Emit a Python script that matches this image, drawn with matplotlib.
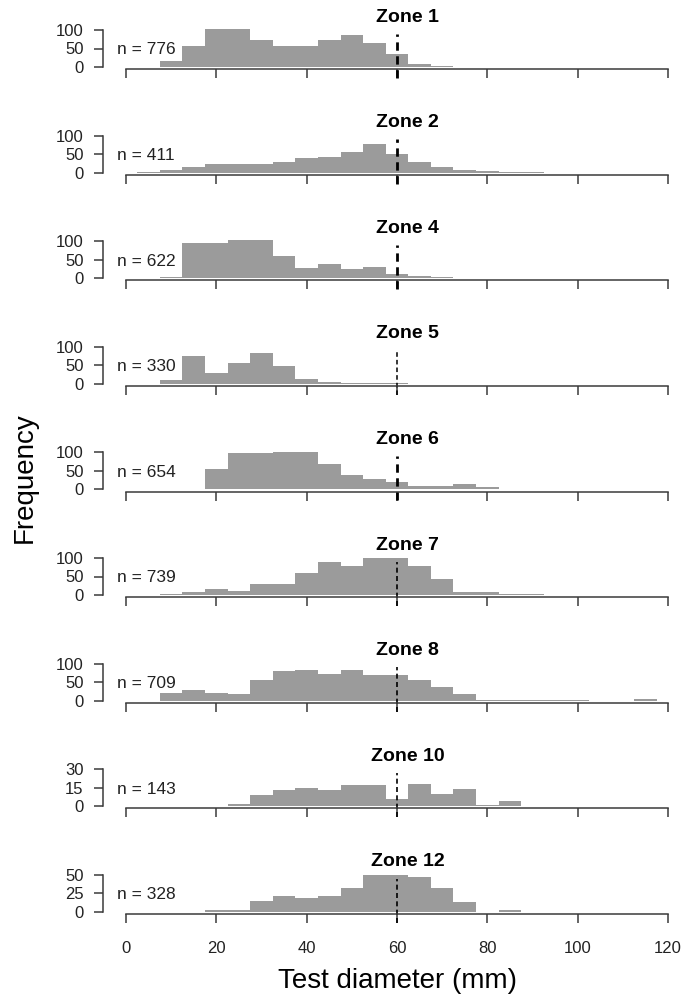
import matplotlib
matplotlib.use("Agg")
import matplotlib.pyplot as plt

plt.rcParams['font.family'] = ['Liberation Sans', 'DejaVu Sans']

#---------------DATOS---------------#

# bin centres (5 mm bins)
centers = [5, 10, 15, 20, 25, 30, 35, 40, 45, 50, 55, 60,
           65, 70, 75, 80, 85, 90, 95, 100, 105, 110, 115, 120]

zones = ['Zone 1', 'Zone 2', 'Zone 4', 'Zone 5', 'Zone 6',
         'Zone 7', 'Zone 8', 'Zone 10', 'Zone 12']
n_labels = [776, 411, 622, 330, 654, 739, 709, 143, 328]
y_ticks = [[0, 50, 100]] * 7 + [[0, 15, 30], [0, 25, 50]]
x_ticks = [0, 20, 40, 60, 80, 100, 120]

zone1 = [0, 16, 56, 103, 103, 73, 56, 56, 73, 87, 64, 35,
         7, 3, 1, 0, 0, 0, 0, 0, 0, 0, 0, 0]
zone2 = [1, 7, 15, 22, 22, 22, 30, 39, 43, 56, 78, 51,
         29, 15, 6, 3, 1, 1, 0, 0, 0, 0, 0, 0]
zone4 = [0, 2, 94, 94, 103, 103, 59, 28, 39, 25, 30, 11,
         7, 3, 1, 0, 0, 0, 0, 0, 0, 0, 0, 0]
zone5 = [0, 9, 74, 30, 57, 83, 48, 14, 5, 3, 3, 1,
         0, 0, 0, 0, 0, 0, 0, 0, 0, 0, 0, 0]
zone6 = [0, 2, 2, 54, 98, 98, 102, 102, 68, 38, 27, 20,
         10, 10, 15, 6, 0, 0, 0, 0, 0, 0, 0, 0]
zone7 = [0, 2, 8, 17, 12, 30, 30, 59, 88, 78, 100, 100,
         78, 42, 8, 8, 2, 2, 0, 0, 0, 0, 0, 0]
zone8 = [0, 21, 29, 21, 17, 57, 79, 83, 73, 83, 69, 69,
         57, 38, 17, 2, 2, 2, 2, 2, 0, 0, 3, 0]
zone10 = [0, 0, 0, 0, 2, 9, 13, 15, 13, 17, 17, 6,
          18, 10, 14, 1, 4, 0, 0, 0, 0, 0, 0, 0]
zone12 = [0, 0, 0, 2, 3, 14, 21, 19, 21, 32, 50, 50,
          47, 32, 13, 0, 3, 0, 0, 0, 0, 0, 0, 0]

counts = [zone1, zone2, zone4, zone5, zone6, zone7, zone8, zone10, zone12]

# line width of the dashed 60 mm line in each panel
dash_lw = [2.0, 2.0, 2.0, 1.1, 2.0, 1.2, 1.2, 1.2, 1.2]

#---------------FIGURA---------------#

W, H = 696, 999
x0, x1 = 126, 668
base0, step = 67, 105.6
ph = 37
gris = '#9b9b9b'
eje = '#3a3a3a'

fig = plt.figure(figsize=(W / 100, H / 100), dpi=100)

for i in range(len(zones)):
    base = base0 + step * i
    ax = fig.add_axes([x0 / W, 1 - base / H, (x1 - x0) / W, ph / H])
    top = y_ticks[i][-1]
    ax.bar(centers, counts[i], width=5, color=gris, linewidth=0, clip_on=False)
    # dashed line at 60 mm, running down over the axis tick
    ax.plot([60, 60], [-0.3 * top, 0.9 * top], color='black', lw=dash_lw[i],
            ls=(0, (3, 2)), clip_on=False)
    ax.set_xlim(0, 120)
    ax.set_ylim(0, top)
    ax.set_facecolor('none')

    for s in ['top', 'right']:
        ax.spines[s].set_visible(False)
    ax.spines['left'].set_position(('outward', 16.3))
    ax.spines['bottom'].set_position(('outward', 1.6))
    ax.spines['left'].set_bounds(0, top)
    ax.spines['bottom'].set_bounds(0, 120)
    for s in ['left', 'bottom']:
        ax.spines[s].set_color(eje)
        ax.spines[s].set_linewidth(1.1)

    ax.set_yticks(y_ticks[i])
    ax.set_xticks(x_ticks)
    ax.tick_params(axis='both', length=6.2, width=1.1, color=eje,
                   labelsize=12, labelcolor='#222222')
    ax.tick_params(axis='y', pad=8)
    if i < len(zones) - 1:
        ax.set_xticklabels([])
    else:
        ax.tick_params(axis='x', pad=13)

    ax.text(62.4, 1.35, zones[i], transform=ax.get_xaxis_transform(),
            ha='center', va='center', fontsize=14, fontweight='bold')
    ax.text(-2.0, 0.46, 'n = %d' % n_labels[i],
            transform=ax.get_xaxis_transform(),
            ha='left', va='center', fontsize=12.5, color='#222222')

fig.text(25 / W, 1 - 478 / H, 'Frequency', rotation=90,
         ha='center', va='center', fontsize=20)
fig.text(397 / W, 1 - 981 / H, 'Test diameter (mm)',
         ha='center', va='center', fontsize=20)

fig.savefig('out.png', dpi=100)
